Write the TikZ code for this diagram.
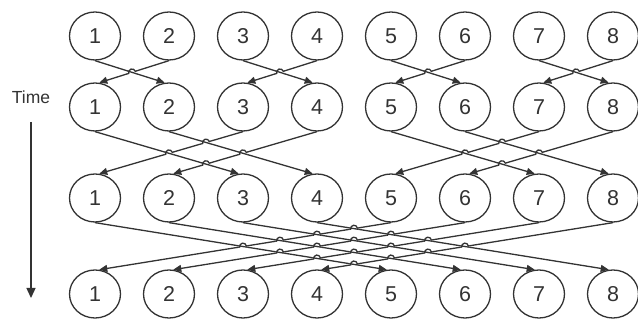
\documentclass[tikz,border=0pt]{standalone}
\usepackage{fontspec}
\setmainfont{Liberation Sans}
\usetikzlibrary{arrows.meta,calc,shapes.geometric}
\definecolor{lc}{HTML}{333333}
\newcommand\hopat[4]{%
  \coordinate (X) at (intersection of #1--#2 and #3--#4);
  \fill[white] (X) circle (4.6pt);
  \draw[ln] ($(X)!4.6pt!(#1)$) -- ($(X)!4.6pt!(#2)$);
  \draw[ln] let \p1=($(#3)-(#4)$), \n1={atan2(\y1,\x1)} in
    ($(X)+(\n1+180:4.6pt)$) -- ($(X)+(\n1+180:3.4pt)$)
    arc[start angle=\n1+180, end angle=\n1, radius=3.4pt]
    -- ($(X)+(\n1:4.6pt)$);
}
\begin{document}
\begin{tikzpicture}[x=1pt,y=1pt,
  circ/.style={ellipse, draw=lc, line width=1.3pt, minimum width=51pt, minimum height=48pt, inner sep=0pt,
    text=lc, font=\fontsize{21.5}{21.5}\selectfont},
  ln/.style={draw=lc, line width=1.3pt},
  arr/.style={ln, -{Triangle[length=8pt,width=7pt]}}]
\useasboundingbox (0,0) rectangle (638,-320);
\foreach \r/\y in {1/36,2/107,3/198,4/294}{
  \foreach \i in {1,...,8}{
    \node[circ] (n\r\i) at ({95+74*(\i-1)},-\y) {\i};
  }
}
\node[text=lc, font=\fontsize{17.5}{17.5}\selectfont, anchor=base] (time) at (31,-104) {Time};
\coordinate (ta) at (31,-122);
\coordinate (tb) at (31,-298);
\draw[arr, -{Triangle[length=10pt,width=9pt]}] (ta) -- (tb);
\foreach \r/\d in {1/1,2/2,3/4}{
  \foreach \i in {1,...,8}{
    \pgfmathtruncatemacro\j{\i + \d*(1-2*mod(floor((\i-1)/\d),2))}
    \pgfmathtruncatemacro\q{\r+1}
    \ifnum\j>\i \def\ang{100}\else\def\ang{80}\fi
    \coordinate (s\r\i) at (n\r\i.south);
    \coordinate (e\r\i) at (n\q\j.\ang);
    \draw[arr] (s\r\i) -- (e\r\i);
  }
}
\foreach \r/\d in {1/1,2/2,3/4}{
  \foreach \i in {1,...,8}{
    \foreach \k in {1,...,8}{
      \pgfmathtruncatemacro\ok{(mod(floor((\i-1)/\d),2)==0) && (mod(floor((\k-1)/\d),2)==1) && (floor((\i-1)/(2*\d))==floor((\k-1)/(2*\d)))}
      \ifnum\ok=1 \hopat{s\r\i}{e\r\i}{s\r\k}{e\r\k}\fi
    }
  }
}
\end{tikzpicture}
\end{document}
